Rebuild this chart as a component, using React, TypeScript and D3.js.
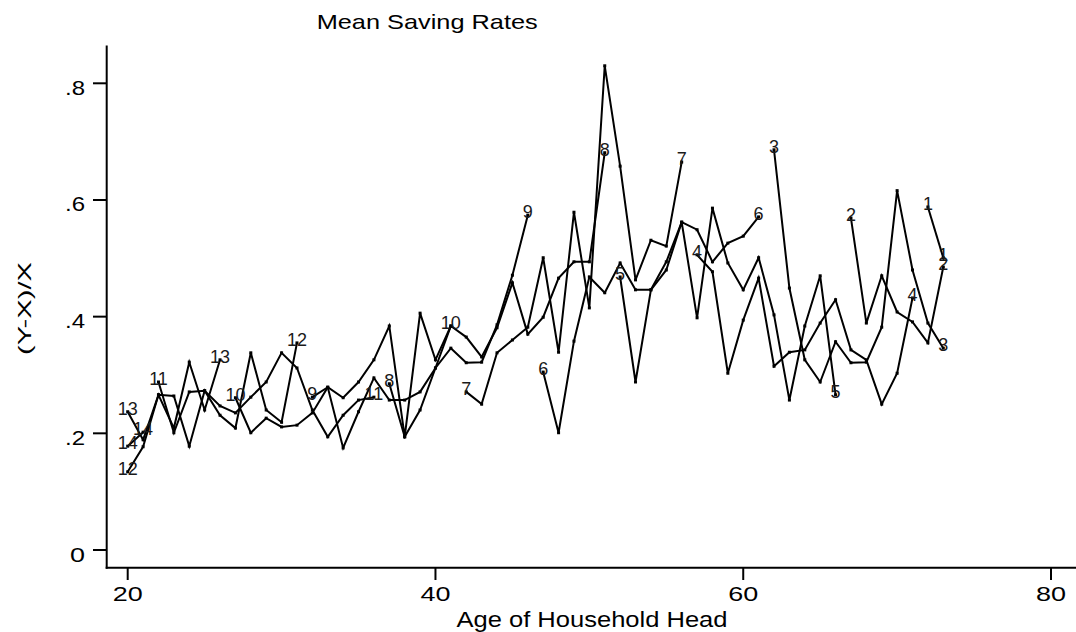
import React from "react";
import * as d3 from "d3";

// ---- data ----
const cohortIds = [1, 2, 3, 4, 5, 6, 7, 8, 9, 10, 11, 12, 13, 14];
const cohortStartAge = [72, 67, 62, 57, 52, 47, 42, 37, 32, 27, 22, 20, 20, 20];
const cohort1 = [0.588, 0.501];
const cohort2 = [0.569, 0.389, 0.470, 0.408, 0.391, 0.355, 0.485];
const cohort3 = [0.686, 0.449, 0.326, 0.288, 0.357, 0.321, 0.322, 0.382, 0.616, 0.480, 0.389, 0.346];
const cohort4 = [0.506, 0.477, 0.303, 0.394, 0.466, 0.315, 0.339, 0.343, 0.389, 0.429, 0.343, 0.326, 0.250, 0.303, 0.432];
const cohort5 = [0.468, 0.288, 0.446, 0.480, 0.562, 0.398, 0.586, 0.492, 0.446, 0.501, 0.403, 0.257, 0.384, 0.470, 0.266];
const cohort6 = [0.305, 0.201, 0.358, 0.468, 0.441, 0.492, 0.446, 0.446, 0.494, 0.562, 0.549, 0.494, 0.526, 0.538, 0.571];
const cohort7 = [0.271, 0.250, 0.338, 0.360, 0.382, 0.501, 0.339, 0.579, 0.415, 0.830, 0.658, 0.463, 0.531, 0.521, 0.665];
const cohort8 = [0.285, 0.194, 0.240, 0.312, 0.384, 0.365, 0.331, 0.381, 0.458, 0.370, 0.399, 0.466, 0.494, 0.494, 0.681];
const cohort9 = [0.262, 0.279, 0.175, 0.237, 0.295, 0.257, 0.257, 0.271, 0.312, 0.346, 0.321, 0.322, 0.386, 0.471, 0.574];
const cohort10 = [0.261, 0.201, 0.226, 0.211, 0.214, 0.235, 0.279, 0.261, 0.288, 0.326, 0.384, 0.194, 0.406, 0.326, 0.384];
const cohort11 = [0.288, 0.201, 0.271, 0.273, 0.247, 0.235, 0.262, 0.288, 0.338, 0.312, 0.240, 0.194, 0.231, 0.257, 0.262];
const cohort12 = [0.134, 0.177, 0.266, 0.264, 0.178, 0.273, 0.231, 0.209, 0.338, 0.240, 0.219, 0.355];
const cohort13 = [0.237, 0.189, 0.266, 0.209, 0.322, 0.240, 0.326];
const cohort14 = [0.178, 0.202];
const cohortValues = [cohort1, cohort2, cohort3, cohort4, cohort5, cohort6, cohort7, cohort8, cohort9, cohort10, cohort11, cohort12, cohort13, cohort14];

const xTicks = [20, 40, 60, 80];
const yTicks = [0, 0.2, 0.4, 0.6, 0.8];
const yTickLabels = ["0", ".2", ".4", ".6", ".8"];
const titleText = "Mean Saving Rates";
const xTitle = "Age of Household Head";
const yTitle = "(Y-X)/X";

const W = 1076;
const H = 632;
const FONT = "'Liberation Sans', Arial, Helvetica, sans-serif";

export default function App() {
  const x = d3.scaleLinear().domain([20, 80]).range([127.7, 1051]);
  const y = d3.scaleLinear().domain([0, 0.8]).range([550, 83.3]);
  const axisX = 106.7;
  const axisY = 567.7;
  const line = d3
    .line<[number, number]>()
    .x((d) => x(d[0]))
    .y((d) => y(d[1]));

  const series = cohortIds.map((id, k) => {
    const pts: [number, number][] = cohortValues[k].map((v, i) => [cohortStartAge[k] + i, v]);
    return { id, pts };
  });

  return (
    <svg width={W} height={H} style={{ position: "absolute", left: 0, top: 0, background: "#fff" }}>
      <rect x={0} y={0} width={W} height={H} fill="#fff" />
      <text x={316.7} y={29} fontFamily={FONT} fontSize={21} textLength={221} lengthAdjust="spacingAndGlyphs" fill="#000">
        {titleText}
      </text>
      <line x1={axisX} x2={axisX} y1={45.5} y2={axisY + 1} stroke="#000" strokeWidth={2} />
      <line x1={axisX - 1} x2={W} y1={axisY} y2={axisY} stroke="#000" strokeWidth={2} />
      {yTicks.map((t, i) => (
        <g key={"yt" + i}>
          <line x1={93} x2={axisX} y1={y(t)} y2={y(t)} stroke="#000" strokeWidth={2} />
          <text
            x={85}
            y={y(t) + 11.5}
            fontFamily={FONT}
            fontSize={21}
            textAnchor="end"
            fill="#000"
            textLength={yTickLabels[i].length === 1 ? 15 : 20}
            lengthAdjust="spacingAndGlyphs"
          >
            {yTickLabels[i]}
          </text>
        </g>
      ))}
      {xTicks.map((t) => (
        <g key={"xt" + t}>
          <line x1={x(t)} x2={x(t)} y1={axisY} y2={580} stroke="#000" strokeWidth={2} />
          <text
            x={x(t)}
            y={600.5}
            fontFamily={FONT}
            fontSize={21}
            textAnchor="middle"
            fill="#000"
            textLength={30}
            lengthAdjust="spacingAndGlyphs"
          >
            {String(t)}
          </text>
        </g>
      ))}
      <text x={592} y={627} fontFamily={FONT} fontSize={22} textAnchor="middle" textLength={271} lengthAdjust="spacingAndGlyphs" fill="#000">
        {xTitle}
      </text>
      <text
        transform="translate(31,308.5) rotate(-90)"
        fontFamily={FONT}
        fontSize={19}
        textAnchor="middle"
        textLength={93}
        lengthAdjust="spacingAndGlyphs"
        fill="#000"
      >
        {yTitle}
      </text>
      {series.map((s) => (
        <g key={"s" + s.id}>
          <path d={line(s.pts) || ""} fill="none" stroke="#000" strokeWidth={2} strokeLinejoin="miter" />
          {s.pts.map((p, i) => (
            <rect key={i} x={x(p[0]) - 1.5} y={y(p[1]) - 1.5} width={3} height={3} fill="#000" />
          ))}
        </g>
      ))}
      {series.map((s) => {
        const first = s.pts[0];
        const last = s.pts[s.pts.length - 1];
        return [first, last].map((p, j) => (
          <text
            key={"l" + s.id + "-" + j}
            x={x(p[0])}
            y={y(p[1]) - 3}
            fontFamily={FONT}
            fontSize={18}
            textAnchor="middle"
            dominantBaseline="central"
            fill="#1a1a1a"
          >
            {String(s.id)}
          </text>
        ));
      })}
    </svg>
  );
}
